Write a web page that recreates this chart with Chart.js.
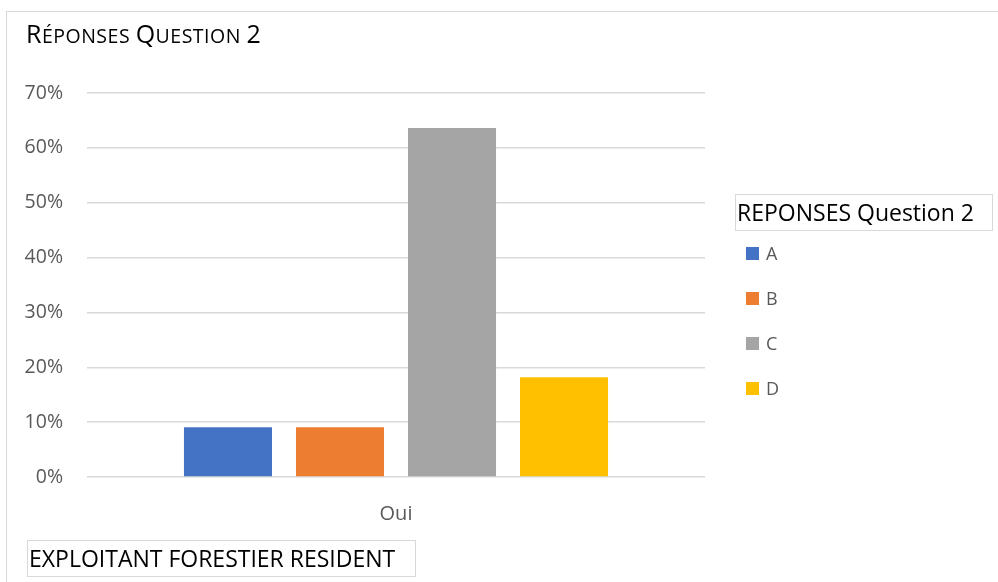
<!DOCTYPE html>
<html>
<head>
<meta charset="utf-8">
<script src="https://cdn.jsdelivr.net/npm/chart.js@4"></script>
<style>
  html, body { margin: 0; padding: 0; background: #fff; }
  body { width: 998px; height: 582px; position: relative; overflow: hidden; font-family: "Open Sans", sans-serif; }
  #frame { position: absolute; left: 6px; top: 11px; right: -2px; bottom: -2px; border-top: 1.5px solid #d9d9d9; border-left: 1.5px solid #d9d9d9; }
  #wrap { position: absolute; left: 0; top: 0; width: 998px; height: 582px; }
  #title { position: absolute; left: 26px; top: 16px; line-height: 34px; color: #000; white-space: nowrap; letter-spacing: 0.5px; }
  #title .big { font-size: 25px; }
  #title .small { font-size: 19.5px; }
  #legendTitle { position: absolute; left: 735px; top: 194px; width: 258px; height: 37px; box-sizing: border-box; border: 1.5px solid #d9d9d9; font-size: 23px; line-height: 34px; padding-left: 1px; color: #000; white-space: nowrap; }
  #legend { position: absolute; left: 746px; top: 241px; }
  .item { position: absolute; left: 0; height: 24px; display: flex; align-items: center; font-size: 18px; color: #595959; white-space: nowrap; }
  .item span.sw { width: 13px; height: 13px; margin-right: 7px; display: inline-block; }
  #footer { position: absolute; left: 27px; top: 540px; width: 389px; height: 37px; box-sizing: border-box; border: 1.5px solid #d9d9d9; font-size: 23px; line-height: 34px; padding-left: 1px; color: #000; white-space: nowrap; }
</style>
</head>
<body>
<div id="frame"></div>
<div id="wrap"><canvas id="chart" width="998" height="582"></canvas></div>
<div id="title"><span class="big">R</span><span class="small">ÉPONSES </span><span class="big">Q</span><span class="small">UESTION </span><span class="big">2</span></div>
<div id="legendTitle"></div>
<div id="legend"></div>
<div id="footer"></div>
<script>
const categories = ['Oui'];
const seriesNames = ['A', 'B', 'C', 'D'];
const seriesValues = [9.09, 9.09, 63.64, 18.18];
const seriesColors = ['#4472c4', '#ed7d31', '#a5a5a5', '#ffc000'];
const yTickLabels = ['0%', '10%', '20%', '30%', '40%', '50%', '60%', '70%'];
const legendTitle = 'REPONSES Question 2';
const footerText = 'EXPLOITANT FORESTIER RESIDENT';

const ctx = document.getElementById('chart').getContext('2d');

const datasets = seriesNames.map((name, i) => ({
    label: name,
    data: [seriesValues[i]],
    backgroundColor: seriesColors[i],
    borderWidth: 0,
    categoryPercentage: 0.725,
    barPercentage: 0.786
}));

const chart = new Chart(ctx, {
    type: 'bar',
    data: { labels: categories, datasets: datasets },
    options: {
        responsive: false,
        animation: false,
        layout: { padding: { left: 20, top: 93, right: 293, bottom: 55 } },
        plugins: {
            legend: { display: false },
            title: { display: false },
            tooltip: { enabled: false }
        },
        scales: {
            x: {
                grid: { display: false },
                border: { display: false },
                ticks: { color: '#595959', font: { family: 'Open Sans', size: 20 }, padding: 17 },
                afterFit: (scale) => { scale.height = 50; }
            },
            y: {
                min: 0,
                max: 70,
                grid: { color: '#d9d9d9', lineWidth: 1.5, drawTicks: false },
                border: { display: false },
                ticks: {
                    stepSize: 10,
                    color: '#595959',
                    font: { family: 'Open Sans', size: 19.5 },
                    padding: 24,
                    callback: (value) => yTickLabels[Math.round(value / 10)]
                },
                afterFit: (scale) => { scale.width = 67; }
            }
        }
    }
});

// Légende HTML construite à partir des datasets
document.getElementById('legendTitle').textContent = legendTitle;
document.getElementById('footer').textContent = footerText;
const legendEl = document.getElementById('legend');
chart.data.datasets.forEach((ds, i) => {
    const div = document.createElement('div');
    div.className = 'item';
    div.style.top = (i * 45) + 'px';
    div.innerHTML = `<span class="sw" style="background:${ds.backgroundColor}"></span>${ds.label}`;
    legendEl.appendChild(div);
});
</script>
</body>
</html>
